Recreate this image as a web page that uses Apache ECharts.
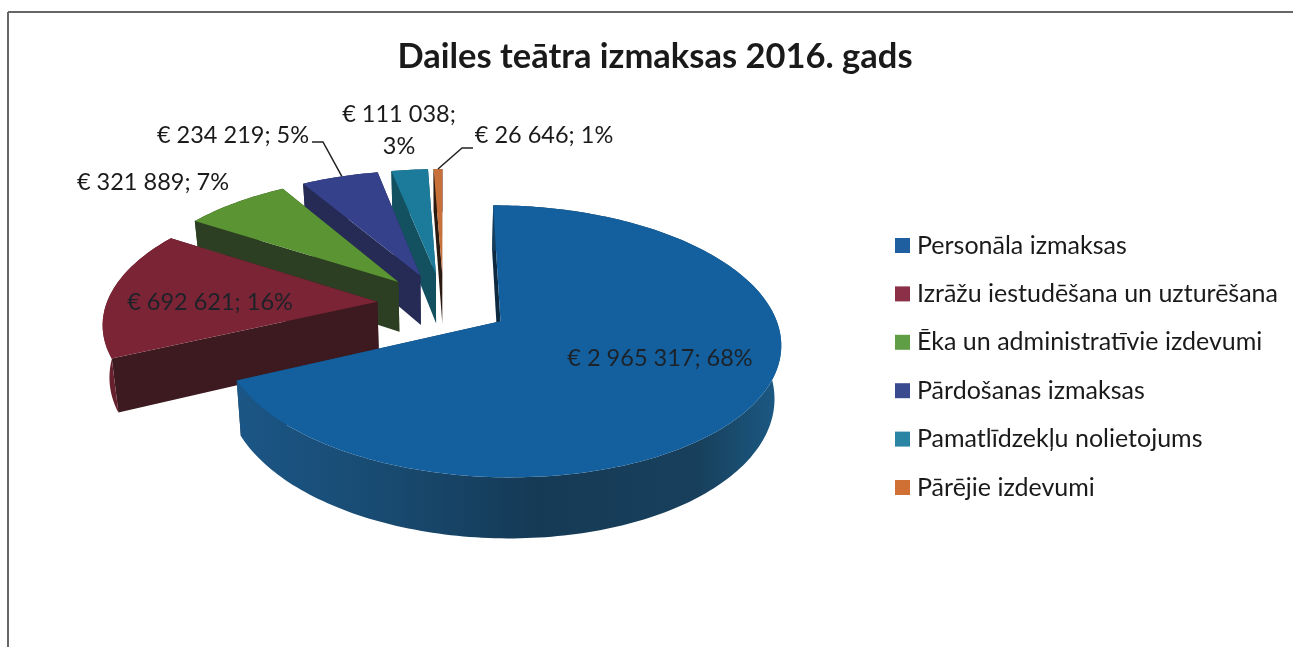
<!DOCTYPE html>
<html><head><meta charset="utf-8">
<style>html,body{margin:0;padding:0;background:#fff}#c{width:1293px;height:647px}</style>
<script src="https://cdn.jsdelivr.net/npm/echarts@6/dist/echarts.min.js"></script>
</head><body><div id="c"></div>
<script>
const categories = ['Personāla izmaksas','Izrāžu iestudēšana un uzturēšana','Ēka un administratīvie izdevumi','Pārdošanas izmaksas','Pamatlīdzekļu nolietojums','Pārējie izdevumi'];
const costs = [2965317, 692621, 321889, 234219, 111038, 26646];
const topColors = ['#14609f','#7b2435','#5a9433','#35418a','#1c7b9b','#c8703a'];
const sideColors = ['#173f5f','#3c1a20','#2c3f22','#252b55','#135060','#2a1a10'];
const arcColors = ['#173f5f','#66202e','#2c3f22','#252b55','#135060','#2a1a10'];
const legendColors = ['#1f5f9f','#8c3048','#5f9e45','#3a4a8e','#2a85a5','#d07035'];
const titleText = 'Dailes teātra izmaksas 2016. gads';

// projection of the exploded, tilted pie
const P = {cx:443.5, cy:304, rx:271, s:128, k:0.145, e:0.245, H:51, shrink:0.98};
// label layout: centre x, centre y, for each slice
const labelAt = [[660,358],[210,302],[153,182],[233,135],[399,130],[544,135]];
const leaderFrom = [null,null,null,[[312,142],[323,142]],null,[[473,148],[462,148]]];
const total = costs.reduce((a,b)=>a+b,0);
const fmt = n => String(n).replace(/\B(?=(\d{3})+$)/g,' ');
const labelText = i => {
  const p = Math.round(costs[i]/total*100);
  return '€ '+fmt(costs[i])+';'+(i===4?'\n':' ')+p+'%';
};
function project(u,v,low){
  const d = 1-P.k*v;
  let x = P.cx+P.rx*u/d, y = P.cy+P.s*v/d;
  if(low){ x = P.cx+(x-P.cx)*P.shrink; y += P.H/d; }
  return [x,y];
}
function sliceAngles(i){
  let a = 0; for(let j=0;j<i;j++) a += costs[j];
  return [a/total*2*Math.PI,(a+costs[i])/total*2*Math.PI];
}
function sliceGeom(i){
  const [a0,a1] = sliceAngles(i), m=(a0+a1)/2;
  const ou=P.e*Math.sin(m), ov=-P.e*Math.cos(m);
  const n=Math.max(4,Math.ceil((a1-a0)/0.02));
  const arc=low=>{const r=[];for(let t=0;t<=n;t++){const a=a0+(a1-a0)*t/n;r.push(project(ou+Math.sin(a),ov-Math.cos(a),low));}return r;};
  return {ou,ov,m,top:arc(false),bot:arc(true),ap:project(ou,ov,false),apb:project(ou,ov,true)};
}
function poly(points,fill,z){return {type:'polygon',shape:{points},style:{fill,stroke:null},z2:z};}
function renderSlice(i){
  return function(){
    const g=sliceGeom(i), ch=[];
    const t=g.top,b=g.bot;
    const arcFill = i===0 ? new echarts.graphic.LinearGradient(0,0,1,0,[
      {offset:0,color:'#1b5686'},{offset:.3,color:'#18496e'},{offset:.55,color:'#153a56'},
      {offset:.85,color:'#18405c'},{offset:1,color:'#1b5a86'}]) : arcColors[i];
    const startFill = i===0 ? '#0d2a40' : sideColors[i];
    ch.push(poly([g.ap,g.apb,b[0],t[0]],startFill,1));
    ch.push(poly([g.ap,g.apb,b[b.length-1],t[t.length-1]],sideColors[i],1));
    ch.push(poly(t.concat(b.slice().reverse()),arcFill,2));
    ch.push(poly([g.ap].concat(t),topColors[i],3));
    return {type:'group',children:ch};
  };
}
function renderLabels(params){
  const i=params.dataIndex, ch=[];
  const [x,y]=labelAt[i];
  if(leaderFrom[i]){
    const g=sliceGeom(i), mid=g.top[Math.floor(g.top.length*(i===3?0.55:0.5))];
    ch.push({type:'polyline',shape:{points:leaderFrom[i].concat([mid])},style:{fill:null,stroke:'#222',lineWidth:1.5}});
  }
  ch.push({type:'text',style:{text:labelText(i),x,y,textAlign:'center',textVerticalAlign:'middle',
    fill:(i<2?'#1c2228':'#1a1a1a'),font:'23.5px Lato',lineHeight:32}});
  return {type:'group',children:ch};
}
const order=[5,4,3,2,1,0];
const series=order.map(i=>({
  type:'custom',name:categories[i],coordinateSystem:'none',
  itemStyle:{color:legendColors[i]},silent:true,animation:false,
  data:[[costs[i]]],renderItem:renderSlice(i)
}));
series.push({type:'custom',name:'labels',coordinateSystem:'none',silent:true,animation:false,z:5,
  data:costs.map(v=>[v]),renderItem:renderLabels});
const chart=echarts.init(document.getElementById('c'),null,{renderer:'canvas'});
chart.setOption({
  animation:false,backgroundColor:'#ffffff',
  title:{text:titleText,left:650,top:34,textAlign:'center',textStyle:{fontFamily:'Lato',fontWeight:'bold',fontSize:34.5,color:'#1a1a1a'}},
  legend:{orient:'vertical',left:890,top:228,itemWidth:15,itemHeight:15,itemGap:23.4,data:categories,
    selectedMode:false,icon:'rect',textStyle:{fontFamily:'Lato',fontSize:25,color:'#1a1a1a',padding:[0,0,0,2]}},
  graphic:[
    {type:'line',shape:{x1:8,y1:12,x2:1293,y2:12},style:{stroke:'#666',lineWidth:2},silent:true},
    {type:'line',shape:{x1:8,y1:12,x2:8,y2:647},style:{stroke:'#666',lineWidth:2},silent:true}
  ],
  series
});
</script></body></html>
